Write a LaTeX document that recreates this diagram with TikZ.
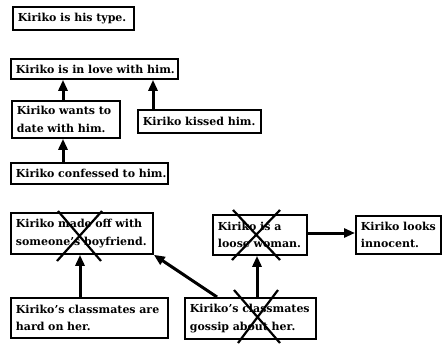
\documentclass[tikz,border=0pt]{standalone}
\usepackage{fontspec}
\setmainfont{DejaVu Serif}
\usetikzlibrary{arrows.meta,calc}
\tikzset{
  stmt/.style={draw, line width=1.8pt, anchor=north west, align=left,
    inner xsep=5pt, inner ysep=0pt,
    font=\fontsize{11}{17.5}\selectfont\bfseries},
  arr/.style={line width=3pt, -{Triangle[length=11pt,width=9pt]}},
  xout/.style={line width=2.2pt},
}
\begin{document}
\begin{tikzpicture}[x=1pt,y=-1pt]
\useasboundingbox (0,0) rectangle (442,343);
% boxes: top-left, width, height
\node[stmt, text width=111pt, minimum height=23pt] (b1) at (12,6) {\mbox{Kiriko is his type.}};
\node[stmt, text width=157pt, minimum height=20pt] (b2) at (10,58) {\mbox{Kiriko is in love with him.}};
\node[stmt, text width=98pt, minimum height=37pt] (b3) at (11,100) {\mbox{Kiriko wants to}\\\mbox{date with him.}};
\node[stmt, text width=113pt, minimum height=23pt] (b4) at (137,109) {\mbox{Kiriko kissed him.}};
\node[stmt, text width=147pt, minimum height=21pt] (b5) at (10,162) {\mbox{Kiriko confessed to him.}};
\node[stmt, text width=132pt, minimum height=41pt] (b6) at (10,212) {\mbox{Kiriko made off with}\\\mbox{someone's boyfriend.}};
\node[stmt, text width=84pt, minimum height=40pt] (b7) at (212,214) {\mbox{Kiriko is a}\\\mbox{loose woman.}};
\node[stmt, text width=75pt, minimum height=38pt] (b8) at (355,215) {\mbox{Kiriko looks}\\\mbox{innocent.}};
\node[stmt, text width=147pt, minimum height=40pt] (b9) at (10,297) {\mbox{Kiriko's classmates are}\\\mbox{hard on her.}};
\node[stmt, text width=121pt, minimum height=41pt] (b10) at (184,297) {\mbox{Kiriko's classmates}\\\mbox{gossip about her.}};
% connectors
\coordinate (p3) at (63,0);
\coordinate (p4) at (153,0);
\coordinate (p9) at (80,0);
\coordinate (p10a) at (217,0);
\coordinate (p10b) at (257,0);
\coordinate (p7) at (0,233);
\draw[arr] (b3.north -| p3) -- (b2.south -| p3);
\draw[arr] (b4.north -| p4) -- (b2.south -| p4);
\draw[arr] (b5.north -| p3) -- (b3.south -| p3);
\draw[arr] (b9.north -| p9) -- (b6.south -| p9);
\draw[arr] (b10.north -| p10a) -- (b6.south east);
\draw[arr] (b10.north -| p10b) -- (b7.south -| p10b);
\draw[arr] (b7.east |- p7) -- (b8.west |- p7);
% crossings-out
\draw[xout] (58,211) -- (101,261) (102,211) -- (57,261);
\draw[xout] (233,210) -- (280,260) (280,210) -- (232,260);
\draw[xout] (234,290) -- (280,343) (278,290) -- (238,343);
\end{tikzpicture}
\end{document}
